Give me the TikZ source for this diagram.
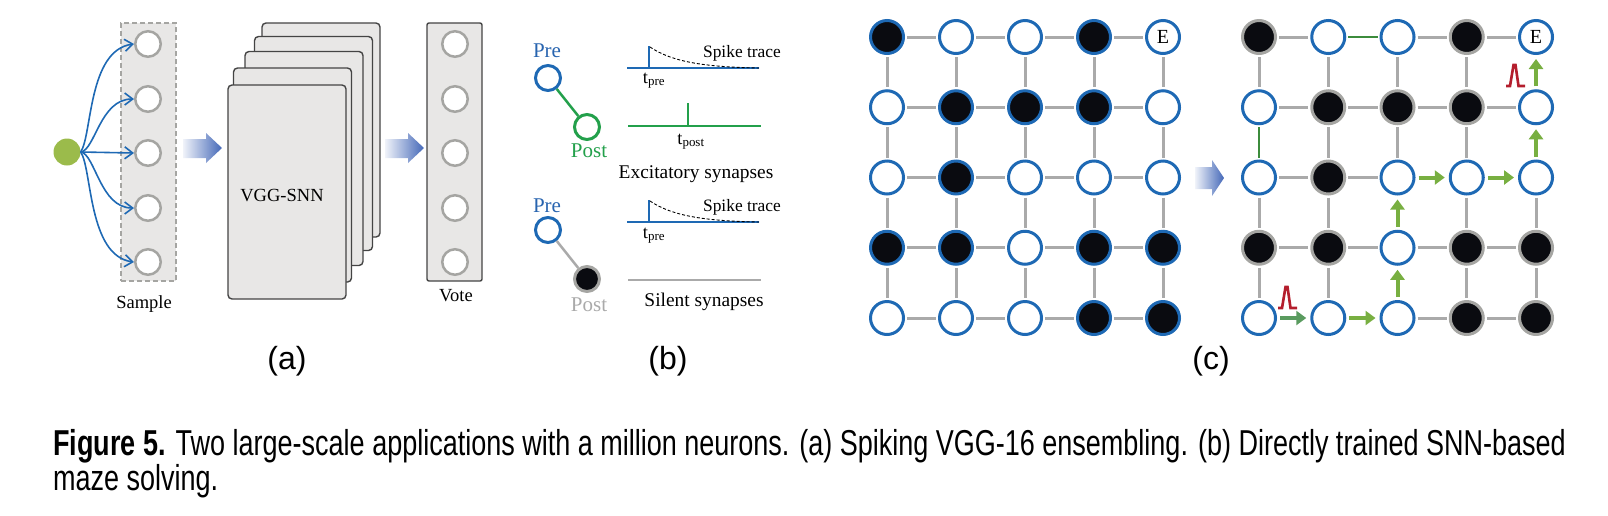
\documentclass[tikz,border=0pt]{standalone}
\usepackage{fontspec}
\setmainfont{Liberation Serif}
\newfontfamily\panelfont{Liberation Sans}
\newfontfamily\capfont[FakeStretch=0.75]{Liberation Sans}
\usetikzlibrary{arrows.meta}

\definecolor{nodeblue}{RGB}{30,105,180}
\definecolor{textblue}{RGB}{40,100,175}
\definecolor{seedgreen}{RGB}{155,187,75}
\definecolor{synapsegreen}{RGB}{35,160,75}
\definecolor{flowgreen}{RGB}{120,175,65}
\definecolor{flowdark}{RGB}{90,155,95}
\definecolor{trailgreen}{RGB}{60,140,60}
\definecolor{spikered}{RGB}{180,30,45}
\definecolor{wallblack}{RGB}{10,11,16}
\definecolor{linkgray}{RGB}{170,170,170}
\definecolor{ringgray}{RGB}{165,165,162}
\definecolor{boxgray}{RGB}{232,231,230}
\definecolor{sheetedge}{RGB}{68,68,68}
\definecolor{arrowblue}{RGB}{68,104,184}

\begin{document}
\begin{tikzpicture}[
        x=1pt, y=-1pt,
        lbl/.style={anchor=base, inner sep=0pt, font=\fontsize{18.5}{22}\selectfont},
        big/.style={anchor=base, inner sep=0pt, font=\fontsize{21}{24}\selectfont},
        small/.style={anchor=base, inner sep=0pt, font=\fontsize{17.4}{20}\selectfont},
        panel/.style={anchor=base, inner sep=0pt, font=\panelfont\fontsize{32}{36}\selectfont},
        unit/.style={circle, minimum size=25.5pt, inner sep=0pt, line width=2.5pt, draw=ringgray, fill=white},
        column/.style={rectangle, minimum width=55pt, minimum height=258pt, fill=boxgray, line width=1.4pt},
        sheet/.style={rectangle, rounded corners=4pt, minimum width=118pt, minimum height=214pt,
            draw=sheetedge, fill=boxgray, line width=1.4pt},
        fan/.style={draw=nodeblue, line width=1.6pt, -{Straight Barb[length=8pt,width=12pt]}},
        neuron/.style={circle, minimum size=25pt, inner sep=0pt, line width=3pt, fill=white},
        trace/.style={line width=2pt},
        free/.style={circle, minimum size=33pt, inner sep=0pt, line width=3pt, draw=nodeblue, fill=white,
            font=\fontsize{20}{22}\selectfont},
        wall/.style={free, fill=wallblack},
        rwall/.style={wall, draw=ringgray},
        link/.style={draw=linkgray, line width=3pt, shorten <=2pt, shorten >=2pt},
        trail/.style={draw=trailgreen, line width=2.6pt, shorten <=2pt, shorten >=2pt},
        flow/.style={draw=flowgreen, line width=4pt, shorten <=3pt, shorten >=4pt,
            -{Triangle[length=10pt,width=14pt]}},
        spk/.style={draw=spikered, line width=2.6pt, line join=miter},
        captext/.style={anchor=base west, inner sep=0pt, align=left, font=\capfont\fontsize{36}{33}\selectfont}
    ]
    \useasboundingbox (0,0) rectangle (1608,515);

    % (a) ensembling
    \node (samplebox) [column, draw=ringgray, dashed, dash pattern=on 5pt off 3pt] at (148.5,152) {};
    \node (votebox) [column, draw=sheetedge, rounded corners=2pt] at (454.5,152) {};

    \node (src) [circle, minimum size=27pt, inner sep=0pt, fill=seedgreen] at (67,152) {};

    \node (s1) [unit] at (148,44) {};
    \node (s2) [unit] at (148,99) {};
    \node (s3) [unit] at (148,153) {};
    \node (s4) [unit] at (148,208) {};
    \node (s5) [unit] at (148,262) {};

    \node (v1) [unit] at (455,44) {};
    \node (v2) [unit] at (455,99) {};
    \node (v3) [unit] at (455,153) {};
    \node (v4) [unit] at (455,208) {};
    \node (v5) [unit] at (455,262) {};

    \node (vgg5) [sheet] at (321,130) {};
    \node (vgg4) [sheet] at (313.5,143.5) {};
    \node (vgg3) [sheet] at (304,158.5) {};
    \node (vgg2) [sheet] at (292.5,175) {};
    \node (vgg1) [sheet] at (287,192) {};
    \node (vggname) [lbl] at (282,201) {VGG-SNN};

    \node (samplename) [lbl] at (144,308) {Sample};
    \node (votename) [lbl] at (456,301) {Vote};

    \draw[fan] (src.east) .. controls +(11.5,-17) and +(-46,6) .. (s1.west);
    \draw[fan] (src.east) .. controls +(14.5,-2) and +(-34,0) .. (s2.west);
    \draw[fan] (src.east) -- (s3.west);
    \draw[fan] (src.east) .. controls +(14.5,2) and +(-34,0) .. (s4.west);
    \draw[fan] (src.east) .. controls +(11.5,17) and +(-46,-6) .. (s5.west);

    \shade[left color=arrowblue!8, right color=arrowblue]
        (183,139) -- (206,139) -- (206,133) -- (222,148) -- (206,163) -- (206,158) -- (183,158) -- cycle;
    \shade[left color=arrowblue!8, right color=arrowblue]
        (385,139) -- (408,139) -- (408,133) -- (424,148) -- (408,163) -- (408,158) -- (385,158) -- cycle;

    % (b) synapses
    \node (pre1) [neuron, draw=nodeblue] at (548,78) {};
    \node (post1) [neuron, draw=synapsegreen] at (587,127) {};
    \node (pre2) [neuron, draw=nodeblue] at (548,230) {};
    \node (post2) [neuron, draw=ringgray, fill=wallblack] at (587,279) {};

    \draw[synapsegreen, line width=2.5pt] (pre1) -- (post1);
    \draw[linkgray, line width=2.5pt] (pre2) -- (post2);

    \node (pre1name) [big, text=textblue] at (547,57) {Pre};
    \node (post1name) [big, text=synapsegreen] at (589,157) {Post};
    \node (pre2name) [big, text=textblue] at (547,212) {Pre};
    \node (post2name) [big, text=linkgray] at (589,311) {Post};

    \draw[trace, nodeblue] (627,68) -- (759,68);
    \draw[trace, nodeblue] (649,68) -- (649,46);
    \draw[black, line width=0.9pt, dash pattern=on 3pt off 2pt] (650,47) .. controls (672,62) and (705,67) .. (759,68);
    \draw[trace, synapsegreen, line width=2.5pt] (628,126) -- (761,126);
    \draw[trace, synapsegreen] (688,126) -- (688,103);
    \draw[trace, nodeblue] (627,222) -- (759,222);
    \draw[trace, nodeblue] (649,222) -- (649,200);
    \draw[black, line width=0.9pt, dash pattern=on 3pt off 2pt] (650,201) .. controls (672,216) and (705,221) .. (759,222);
    \draw[trace, linkgray] (628,280) -- (761,280);

    \node (trace1) [small] at (742,57) {Spike trace};
    \node (trace2) [small] at (742,211) {Spike trace};
    \node (tpre1) [lbl] at (654,83) {t\textsubscript{pre}};
    \node (tpre2) [lbl] at (654,238) {t\textsubscript{pre}};
    \node (tpost) [lbl] at (691,144) {t\textsubscript{post}};
    \node (excname) [lbl, font=\fontsize{19.4}{22}\selectfont] at (696,178) {Excitatory synapses};
    \node (silname) [lbl, font=\fontsize{19.4}{22}\selectfont] at (704,306) {Silent synapses};

    % (c) maze, before
    \foreach \r/\c in {0/0,0/3,1/1,1/2,1/3,2/1,3/0,3/1,3/3,3/4,4/3,4/4}
        \node (L-\r-\c) [wall] at ({887+69*\c},{37+70.25*\r}) {};
    \foreach \r/\c in {0/1,0/2,1/0,1/4,2/0,2/2,2/3,2/4,3/2,4/0,4/1,4/2}
        \node (L-\r-\c) [free] at ({887+69*\c},{37+70.25*\r}) {};
    \node (L-0-4) [free] at (1163,37) {E};

    \foreach \r in {0,...,4}
        \foreach \c [count=\d from 1] in {0,...,3}
            \draw[link] (L-\r-\c) -- (L-\r-\d);
    \foreach \r [count=\s from 1] in {0,...,3}
        \foreach \c in {0,...,4}
            \draw[link] (L-\r-\c) -- (L-\s-\c);

    \shade[left color=arrowblue!8, right color=arrowblue]
        (1195,167) -- (1212,167) -- (1212,160) -- (1224,178) -- (1212,196) -- (1212,189) -- (1195,189) -- cycle;

    % (c) maze, after
    \foreach \r/\c in {0/0,0/3,1/1,1/2,1/3,2/1,3/0,3/1,3/3,3/4,4/3,4/4}
        \node (R-\r-\c) [rwall] at ({1259+69.25*\c},{37+70.25*\r}) {};
    \foreach \r/\c in {0/1,0/2,1/0,1/4,2/0,2/2,2/3,2/4,3/2,4/0,4/1,4/2}
        \node (R-\r-\c) [free] at ({1259+69.25*\c},{37+70.25*\r}) {};
    \node (R-0-4) [free] at (1536,37) {E};

    \foreach \r/\c/\d in {0/0/1,0/2/3,0/3/4,1/0/1,1/1/2,1/2/3,1/3/4,2/0/1,2/1/2,3/0/1,3/1/2,3/2/3,3/3/4,4/2/3,4/3/4}
        \draw[link] (R-\r-\c) -- (R-\r-\d);
    \foreach \r/\s/\c in {0/1/0,0/1/1,0/1/2,0/1/3,1/2/1,1/2/2,1/2/3,2/3/0,2/3/1,2/3/3,2/3/4,3/4/0,3/4/1,3/4/3,3/4/4}
        \draw[link] (R-\r-\c) -- (R-\s-\c);

    \draw[trail] (R-0-1) -- (R-0-2);
    \draw[trail] (R-1-0) -- (R-2-0);

    \draw[flow, draw=flowdark] (R-4-0) -- (R-4-1);
    \draw[flow] (R-4-1) -- (R-4-2);
    \draw[flow] (R-4-2) -- (R-3-2);
    \draw[flow] (R-3-2) -- (R-2-2);
    \draw[flow] (R-2-2) -- (R-2-3);
    \draw[flow] (R-2-3) -- (R-2-4);
    \draw[flow] (R-2-4) -- (R-1-4);
    \draw[flow] (R-1-4) -- (R-0-4);

    \draw[spk] (1278,308) -- (1282,308) -- (1285.5,287) -- (1287.5,287) -- (1290.5,308) -- (1297,308);
    \draw[spk] (1506,86) -- (1510,86) -- (1513.5,65) -- (1515.5,65) -- (1518.5,86) -- (1525,86);

    % Panel letters
    \node (tag-a) [panel] at (287,369) {(a)};
    \node (tag-b) [panel] at (668,369) {(b)};
    \node (tag-c) [panel] at (1211,369) {(c)};

    % Caption
    \node (caption) [captext] at (53,490) {\textbf{Figure 5.} Two large-scale applications with a million neurons. (a) Spiking VGG-16 ensembling. (b) Directly trained SNN-based\\maze solving.};

\end{tikzpicture}
\end{document}
